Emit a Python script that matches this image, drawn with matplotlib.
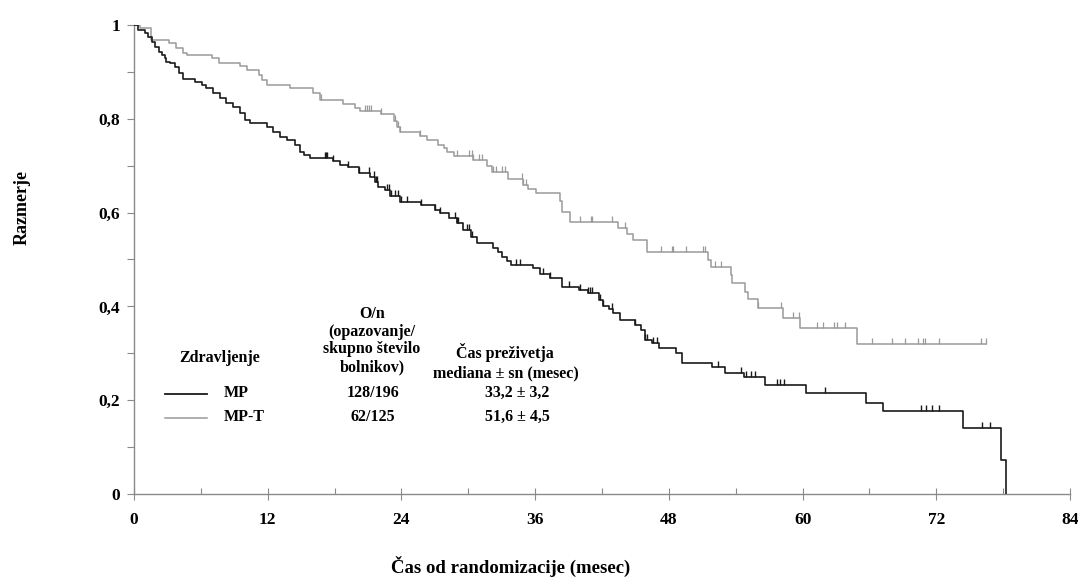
import numpy as np
import matplotlib
matplotlib.use("Agg")
import matplotlib.pyplot as plt
from matplotlib.ticker import MultipleLocator, FixedLocator

# ---------------- data ----------------
# MP (black): event times (months) and survival after each step
mp_times = [0.4, 1.0, 1.3, 1.6, 1.9, 2.2, 2.5, 2.8, 2.9, 3.2, 3.7, 4.0, 4.4, 5.5, 6.1, 6.5,
            7.1, 7.7, 8.3, 8.9, 9.5, 10.0, 10.4, 11.9, 12.5, 13.1, 13.7, 14.45, 14.9, 15.3,
            15.8, 17.9, 18.5, 19.2, 20.2, 21.2, 21.6, 21.9, 22.5, 23.0, 23.9, 25.8, 27.0,
            27.5, 28.3, 29.0, 29.5, 30.2, 30.8, 32.2, 32.7, 33.0, 33.5, 33.8, 35.8, 36.4,
            37.3, 38.4, 39.9, 40.7, 41.7, 42.1, 42.6, 43.0, 43.6, 45.0, 45.5, 45.9, 46.5,
            47.1, 48.6, 49.2, 51.9, 53.0, 54.7, 56.6, 60.3, 65.7, 67.2, 74.4, 77.8, 78.3]
mp_surv = [0.989, 0.984, 0.975, 0.964, 0.954, 0.943, 0.936, 0.929, 0.922, 0.918, 0.911, 0.897,
           0.884, 0.879, 0.872, 0.865, 0.854, 0.844, 0.833, 0.826, 0.812, 0.797, 0.790, 0.783,
           0.772, 0.762, 0.755, 0.744, 0.730, 0.723, 0.716, 0.709, 0.701, 0.697, 0.684, 0.676,
           0.665, 0.655, 0.648, 0.635, 0.623, 0.616, 0.605, 0.600, 0.588, 0.577, 0.563, 0.549,
           0.535, 0.524, 0.515, 0.506, 0.497, 0.488, 0.481, 0.470, 0.460, 0.442, 0.435, 0.428,
           0.414, 0.400, 0.394, 0.385, 0.371, 0.361, 0.350, 0.328, 0.321, 0.312, 0.300, 0.280,
           0.270, 0.259, 0.249, 0.232, 0.215, 0.195, 0.176, 0.141, 0.072, 0.0]
mp_censor = [17.1, 17.2, 17.3, 17.9, 19.2, 20.2, 21.1, 21.5, 21.7, 21.8, 22.7, 22.9, 23.1,
             23.4, 23.7, 24.0, 24.5, 25.8, 27.0, 27.5, 28.8, 29.0, 29.1, 29.9, 30.1, 30.3,
             34.3, 34.6, 36.7, 37.3, 39.0, 40.0, 40.7, 40.9, 41.1, 41.8, 42.1, 42.9, 45.0,
             45.9, 46.0, 46.6, 46.9, 52.4, 54.5, 54.9, 55.4, 55.7, 57.7, 58.0, 58.3, 62.0,
             70.6, 71.1, 71.6, 72.2, 76.1, 76.8]
mp_end = 78.3

# MP-T (grey)
mpt_times = [0.5, 1.5, 3.1, 3.8, 4.4, 4.8, 7.0, 7.6, 9.5, 10.1, 11.2, 11.5, 11.9, 14.0, 16.1,
             16.7, 18.8, 19.8, 20.3, 22.2, 23.3, 23.6, 23.9, 25.7, 26.3, 27.3, 27.8, 28.1,
             28.7, 30.4, 31.7, 32.1, 33.6, 34.9, 35.4, 36.1, 38.2, 38.4, 39.1, 43.4, 44.2,
             44.8, 46.0, 51.5, 51.8, 53.6, 53.7, 54.8, 55.1, 56.0, 58.2, 59.8, 64.9]
mpt_surv = [0.993, 0.968, 0.961, 0.950, 0.940, 0.937, 0.929, 0.920, 0.913, 0.904, 0.893,
            0.883, 0.872, 0.865, 0.854, 0.841, 0.832, 0.824, 0.817, 0.810, 0.795, 0.783,
            0.772, 0.763, 0.755, 0.744, 0.737, 0.730, 0.721, 0.712, 0.700, 0.686, 0.672,
            0.659, 0.650, 0.641, 0.625, 0.602, 0.579, 0.567, 0.555, 0.542, 0.517, 0.500,
            0.483, 0.467, 0.449, 0.431, 0.415, 0.397, 0.376, 0.355, 0.319]
mpt_censor = [16.8, 20.7, 20.9, 21.1, 21.3, 22.2, 23.4, 23.7, 23.9, 25.7, 29.0, 30.1, 30.3,
              30.4, 31.0, 31.2, 32.2, 32.5, 33.0, 33.3, 34.8, 34.9, 35.2, 40.0, 41.0, 41.1,
              42.9, 44.1, 47.3, 48.3, 48.4, 49.5, 51.1, 51.2, 52.1, 52.7, 56.0, 58.1, 59.1,
              59.7, 61.3, 61.8, 62.8, 63.1, 63.8, 66.2, 68.0, 69.2, 70.4, 70.8, 71.0, 72.2,
              76.0, 76.5]
mpt_end = 76.5

x_ticks = [0, 12, 24, 36, 48, 60, 72, 84]
y_ticks = [0, 0.2, 0.4, 0.6, 0.8, 1.0]
y_ticklabels = ["0", "0,2", "0,4", "0,6", "0,8", "1"]

legend_groups = ["MP", "MP-T"]
legend_on = ["128/196", "62/125"]
legend_median = ["33,2 \u00b1 3,2", "51,6 \u00b1 4,5"]

# ---------------- plot ----------------
plt.rcParams['font.family'] = ['Liberation Serif', 'DejaVu Serif']
plt.rcParams['font.weight'] = 'bold'

W, H = 1078, 577
fig = plt.figure(figsize=(W / 100, H / 100), dpi=100)
ax = fig.add_axes([134 / W, 1 - 494 / H, (1070 - 134) / W, (494 - 25) / H])

BLACK = "#1a1a1a"
GREY = "#9a9a9a"


def curve(times, surv, end):
    t = np.array([0.0] + list(times) + ([end] if end > times[-1] else []))
    s = np.array([1.0] + list(surv) + ([surv[-1]] if end > times[-1] else []))
    return t, s


def censor_y(t, s, c):
    idx = np.searchsorted(t, np.array(c), side='right') - 1
    return s[idx]


t1, s1 = curve(mpt_times, mpt_surv, mpt_end)
ax.step(t1, s1, where='post', color=GREY, lw=1.1, zorder=3)
ax.plot(mpt_censor, censor_y(t1, s1, mpt_censor), ls='none', marker=2,
        ms=4.5, mew=0.9, color=GREY, zorder=3)

t0, s0 = curve(mp_times, mp_surv, mp_end)
ax.step(t0, s0, where='post', color=BLACK, lw=1.2, zorder=4)
ax.plot(mp_censor, censor_y(t0, s0, mp_censor), ls='none', marker=2,
        ms=4.5, mew=1.0, color=BLACK, zorder=4)

ax.set_xlim(0, 84)
ax.set_ylim(0, 1.0)
for sp in ['top', 'right']:
    ax.spines[sp].set_visible(False)
for sp in ['left', 'bottom']:
    ax.spines[sp].set_color('#8a8a8a')
    ax.spines[sp].set_linewidth(1.0)

ax.xaxis.set_major_locator(FixedLocator(x_ticks))
ax.xaxis.set_minor_locator(MultipleLocator(6))
ax.yaxis.set_major_locator(FixedLocator(y_ticks))
ax.yaxis.set_minor_locator(MultipleLocator(0.1))
ax.set_xticklabels([str(v) for v in x_ticks])
ax.set_yticklabels(y_ticklabels)
ax.tick_params(axis='x', which='major', direction='inout', length=8, width=0.8,
               color='#8a8a8a', labelsize=12.5, pad=9)
ax.tick_params(axis='x', which='minor', direction='in', length=4, width=0.8, color='#8a8a8a')
ax.tick_params(axis='y', which='both', direction='out', length=5, width=0.8,
               color='#8a8a8a', labelsize=12.5, pad=5)
for lab in ax.get_xticklabels() + ax.get_yticklabels():
    lab.set_fontweight('bold')

fig.text(22 / W, 1 - 207 / H, "Razmerje", rotation=90, ha='center', va='center',
         fontsize=13, fontweight='bold')
fig.text(511 / W, 1 - 566 / H, "\u010cas od randomizacije (mesec)", ha='center',
         va='center', fontsize=13.5, fontweight='bold')


def ftext(x, y, s, ha='center', size=11.5):
    fig.text(x / W, 1 - y / H, s, ha=ha, va='center', fontsize=size, fontweight='bold')


ftext(220, 358, "Zdravljenje")
ftext(372, 314, "O/n")
ftext(372, 332, "(opazovanje/")
ftext(372, 349, "skupno \u0161tevilo")
ftext(372, 367, "bolnikov)")
ftext(505, 352, "\u010cas pre\u017eivetja")
ftext(506, 373, "mediana \u00b1 sn (mesec)")

rows_y = [393, 417]
colors = [BLACK, GREY]
for i in range(2):
    y = rows_y[i]
    fig.add_artist(plt.Line2D([165 / W, 207 / W], [1 - (y + 1) / H, 1 - (y + 1) / H],
                              color=colors[i], lw=1.3 if i == 0 else 1.1))
    ftext(224, y, legend_groups[i], ha='left')
    ftext(373, y, legend_on[i])
    ftext(517, y, legend_median[i])

fig.savefig("out.png", dpi=100)
